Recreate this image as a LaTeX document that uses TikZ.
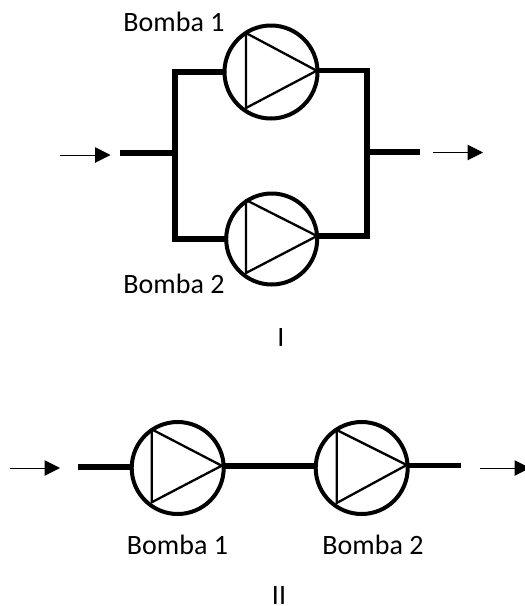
\documentclass[tikz,border=0pt]{standalone}
\usepackage{fontspec}
\setmainfont{Carlito}
\usetikzlibrary{arrows.meta}
\tikzset{
  pump/.style={circle,draw=black,line width=4pt,minimum size=#1,inner sep=0pt,outer sep=0pt},
  pipe/.style={line width=5.6pt,draw=black,line cap=butt,line join=miter},
  impeller/.style={line width=2.3pt,draw=black,line join=round},
  flow/.style={line width=1pt,draw=black,-{Triangle[length=15.5pt,width=15.5pt]}},
  label/.style={font=\fontsize{28pt}{30pt}\selectfont,anchor=base,inner sep=0pt,text=black}
}
\begin{document}
\begin{tikzpicture}[x=1pt,y=-1pt]
\useasboundingbox (0,0) rectangle (525,606);
\clip (0,0) rectangle (525,606);
% part I
\node[pump=93pt] (pa) at (271,72) {};
\node[pump=91pt] (pb) at (271.7,239) {};
\coordinate (tl) at (175,71.7);
\coordinate (bl) at (175,238.7);
\coordinate (tr) at (366.7,70.3);
\coordinate (br) at (366.7,236);
\coordinate (inA) at (120,153);
\coordinate (jA) at (175,153);
\coordinate (outA) at (420,152);
\coordinate (jB) at (366.7,152);
\draw[pipe] (pa.west |- tl) -- (tl) -- (bl) -- (pb.west |- bl);
\draw[pipe] (pa.east |- tr) -- (tr) -- (br) -- (pb.east |- br);
\draw[pipe] (inA) -- (jA);
\draw[pipe] (jB) -- (outA);
\draw[impeller] (246,33) -- (246,108) -- (316.7,70.7) -- cycle;
\draw[impeller] (246,200) -- (246,273) -- (317,236) -- cycle;
\coordinate (a1) at (60,155); \coordinate (a2) at (110.5,155);
\coordinate (a3) at (433,152.5); \coordinate (a4) at (483,152.5);
\draw[flow] (a1) -- (a2);
\draw[flow] (a3) -- (a4);
\node[label] (la) at (174,31) {Bomba 1};
\node[label] (lb) at (174,293) {Bomba 2};
\node[label] (lI) at (281,346) {I};
% part II
\node[pump=92pt] (pc) at (177.7,468) {};
\node[pump=92pt] (pd) at (361.7,468) {};
\coordinate (inB) at (78,467);
\coordinate (outB) at (460.5,465.5);
\draw[pipe] (inB) -- (pc.west |- inB);
\draw[pipe] (pc.east |- 0,466) -- (pd.west |- 0,466);
\draw[pipe] (pd.east |- outB) -- (outB);
\draw[impeller] (151.7,429.3) -- (151.7,502.3) -- (221.7,465.7) -- cycle;
\draw[impeller] (336.7,430) -- (336.7,503) -- (406.7,465) -- cycle;
\coordinate (b1) at (10,468); \coordinate (b2) at (60,468);
\coordinate (b3) at (480,468); \coordinate (b4) at (530,468);
\draw[flow] (b1) -- (b2);
\draw[flow] (b3) -- (b4);
\node[label] (lc) at (177.5,554) {Bomba 1};
\node[label] (ld) at (373,554) {Bomba 2};
\node[label] (lII) at (279,604) {II};
\end{tikzpicture}
\end{document}
